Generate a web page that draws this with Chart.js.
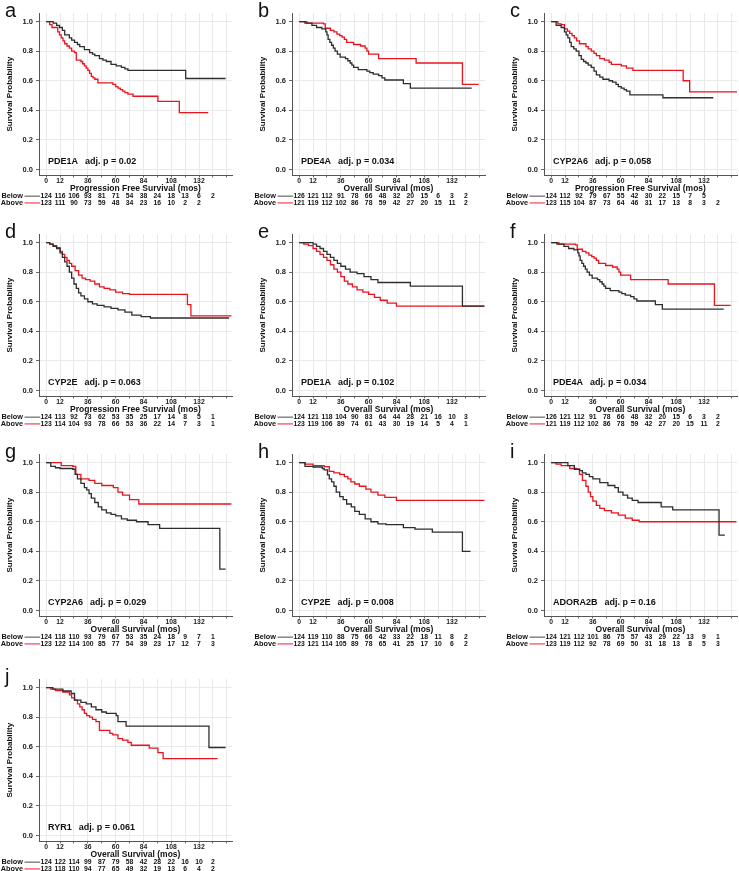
<!DOCTYPE html>
<html>
<head>
<meta charset="utf-8">
<title>Kaplan-Meier curves</title>
<script src="https://cdn.jsdelivr.net/npm/chart.js@4.4.0/dist/chart.umd.min.js"></script>
<style>
  html, body { margin: 0; padding: 0; background: #fff; }
  #figure { position: relative; width: 739px; height: 871px; overflow: hidden; }
  .panel { position: absolute; }
</style>
</head>
<body>
<div id="figure"></div>
<script>
// Axis tick labels and number-at-risk times
const xTickLabels = [0, 12, 36, 60, 84, 108, 132];
const yTickValues = [0, 0.2, 0.4, 0.6, 0.8, 1.0];
const riskMonths = [0, 12, 24, 36, 48, 60, 72, 84, 96, 108, 120, 132, 144];

const pfsTitle = 'Progression Free Survival (mos)';
const osTitle = 'Overall Survival (mos)';

// Survival curves: [month, survival probability]
const aBelow = [[0,1],[2,1],[6,0.99],[9,0.975],[11.5,0.96],[14,0.94],[16,0.91],[20,0.89],[22,0.875],[24.5,0.86],[27,0.845],[29,0.83],[33,0.81],[37.5,0.79],[40,0.78],[42,0.77],[46,0.75],[49,0.74],[52,0.73],[56,0.71],[60.5,0.70],[65,0.69],[68,0.68],[70.6,0.67],[120.5,0.615],[155,0.615]];
const aAbove = [[0,1],[3,0.98],[5,0.96],[10,0.93],[11.5,0.91],[13,0.89],[14.5,0.87],[16,0.85],[18,0.835],[20,0.82],[22,0.80],[24.5,0.79],[26,0.74],[30,0.73],[31.5,0.715],[33,0.70],[34.5,0.685],[36,0.67],[37.5,0.65],[39,0.63],[40.5,0.62],[42,0.61],[44.7,0.585],[57.6,0.575],[60,0.56],[62,0.55],[64,0.54],[66,0.53],[68,0.52],[70.6,0.51],[75,0.495],[96.5,0.46],[115,0.385],[140,0.385]];

const bBelow = [[0,1],[5,0.99],[11,0.975],[15,0.96],[19.6,0.95],[23,0.93],[24,0.91],[25,0.88],[26.5,0.86],[28,0.84],[29.5,0.82],[31,0.80],[33,0.78],[35.4,0.76],[40,0.75],[42,0.735],[44,0.72],[45.5,0.705],[47,0.69],[51,0.675],[58.5,0.665],[61,0.655],[64,0.645],[68.6,0.635],[71.5,0.62],[74,0.605],[90,0.58],[96,0.55],[149,0.55]];
const bAbove = [[0,1],[6.6,0.99],[21,0.985],[22.5,0.955],[27,0.94],[30,0.93],[32.6,0.915],[35,0.905],[37,0.895],[39,0.88],[41,0.86],[47,0.845],[53,0.835],[57,0.82],[58.5,0.80],[60,0.78],[68.6,0.75],[101,0.72],[141,0.575],[155,0.575]];

const cBelow = [[0,1],[4.3,0.975],[8.6,0.96],[11.5,0.93],[13,0.91],[14.4,0.89],[16,0.86],[17.3,0.83],[19.5,0.815],[21.6,0.80],[24,0.77],[26,0.745],[28,0.73],[30,0.72],[32,0.705],[34.6,0.69],[37,0.665],[39,0.64],[42,0.625],[44.7,0.61],[50,0.60],[53,0.59],[56,0.575],[58,0.56],[60.5,0.55],[63,0.54],[65,0.53],[68,0.505],[96.5,0.485],[140,0.485]];
const cAbove = [[0,1],[5.8,0.985],[8.6,0.98],[11.5,0.95],[14,0.935],[16,0.92],[18,0.905],[20,0.89],[22,0.87],[24.5,0.85],[30,0.83],[32,0.815],[34.6,0.80],[37,0.785],[39,0.77],[42,0.75],[46,0.74],[50,0.725],[52,0.71],[60.5,0.70],[65,0.685],[70.6,0.67],[114,0.60],[119.6,0.525],[161,0.525]];

const dBelow = [[0,1],[3,0.99],[6,0.975],[9,0.96],[12,0.93],[14,0.90],[16,0.87],[18,0.84],[20,0.80],[22,0.76],[24,0.72],[26,0.69],[28,0.66],[30,0.64],[33,0.62],[36,0.60],[40,0.585],[44,0.575],[50,0.565],[56,0.555],[62,0.545],[68,0.53],[74,0.51],[82,0.50],[90,0.49],[158,0.49]];
const dAbove = [[0,1],[3,0.99],[6,0.98],[9,0.965],[12,0.94],[14,0.92],[16,0.90],[18,0.88],[20,0.86],[22,0.84],[25,0.81],[28,0.78],[31,0.76],[34,0.75],[38,0.74],[42,0.72],[46,0.70],[50,0.69],[55,0.68],[60,0.665],[66,0.655],[72,0.65],[122,0.58],[125,0.505],[160,0.505]];

const eBelow = [[0,1],[8,1],[12,0.99],[15,0.975],[18,0.96],[21,0.94],[24,0.92],[27,0.90],[30,0.88],[33,0.86],[36,0.84],[40,0.82],[44,0.80],[50,0.79],[56,0.77],[62,0.75],[68,0.73],[96,0.705],[141,0.57],[160,0.57]];
const eAbove = [[0,1],[4,0.99],[8,0.98],[12,0.96],[15,0.94],[18,0.92],[21,0.90],[24,0.88],[27,0.85],[30,0.82],[33,0.80],[36,0.77],[39,0.74],[42,0.72],[46,0.70],[50,0.68],[55,0.665],[60,0.65],[65,0.63],[70,0.61],[76,0.59],[84,0.57],[160,0.57]];

const gBelow = [[0,1],[4,0.975],[8,0.965],[12,0.96],[23,0.955],[25,0.92],[27,0.89],[30,0.86],[33,0.83],[35,0.815],[37,0.79],[39,0.76],[42,0.73],[45,0.70],[48,0.68],[52,0.66],[56,0.65],[60,0.64],[65,0.62],[70,0.61],[78,0.60],[88,0.58],[98,0.555],[150,0.28],[155,0.28]];
const gAbove = [[0,1],[11.5,1],[13,0.98],[23,0.975],[25.6,0.92],[30,0.89],[37,0.88],[42,0.86],[48,0.845],[58,0.83],[62,0.80],[66,0.78],[72,0.75],[80,0.72],[160,0.72]];

const hBelow = [[0,1],[5,0.975],[12,0.97],[20,0.96],[21.6,0.95],[24.5,0.917],[26,0.89],[28,0.87],[30,0.84],[32,0.80],[35,0.77],[38,0.75],[41,0.72],[45,0.70],[48,0.67],[52,0.65],[57,0.62],[62,0.60],[68,0.585],[75,0.58],[90,0.56],[100,0.55],[115,0.53],[141,0.40],[148,0.40]];
const hAbove = [[0,1],[3,1],[5,0.99],[12,0.98],[21.6,0.973],[26,0.94],[30,0.93],[35,0.92],[39,0.905],[42,0.89],[44.7,0.87],[48,0.855],[52,0.84],[57.6,0.82],[62,0.80],[68,0.78],[74,0.765],[84,0.745],[160,0.745]];

const iBelow = [[0,1],[1,1],[14.4,0.98],[20,0.955],[24.5,0.945],[27,0.93],[30,0.92],[33,0.905],[36,0.89],[42,0.865],[49,0.845],[55,0.83],[58,0.80],[62,0.78],[66,0.76],[70,0.745],[75,0.73],[95,0.70],[105,0.68],[145,0.51],[150,0.51]];
const iAbove = [[0,1],[4.3,0.99],[8.6,0.98],[16,0.96],[21.6,0.955],[24.5,0.92],[27,0.88],[30,0.84],[32,0.80],[34,0.77],[36,0.74],[39,0.71],[42,0.69],[46,0.675],[52,0.66],[58,0.645],[64,0.625],[70,0.61],[76,0.60],[160,0.60]];

const jBelow = [[0,1],[5.8,0.99],[14.4,0.977],[21.6,0.96],[24.5,0.915],[30,0.90],[34.6,0.89],[39,0.87],[43,0.85],[48,0.835],[52,0.825],[60.5,0.81],[62,0.77],[69,0.74],[140.6,0.595],[155,0.595]];
const jAbove = [[0,1],[4,0.99],[8,0.98],[14.4,0.97],[20,0.95],[22,0.93],[24.5,0.915],[27,0.89],[29,0.87],[31,0.85],[33,0.825],[35,0.81],[37.5,0.80],[40,0.785],[43,0.77],[46,0.71],[55,0.69],[57.6,0.68],[62,0.655],[66,0.645],[70.6,0.63],[73.5,0.61],[89,0.59],[96.5,0.56],[101,0.52],[148,0.52]];

// Numbers at risk (every 12 months)
const aRiskBelow = [124, 116, 106, 93, 81, 71, 54, 38, 24, 18, 13, 6, 2];
const aRiskAbove = [123, 111, 90, 73, 59, 48, 34, 23, 16, 10, 2, 2];
const bRiskBelow = [126, 121, 112, 91, 78, 66, 48, 32, 20, 15, 6, 3, 2];
const bRiskAbove = [121, 119, 112, 102, 86, 78, 59, 42, 27, 20, 15, 11, 2];
const cRiskBelow = [124, 112, 92, 79, 67, 55, 42, 30, 22, 15, 7, 5];
const cRiskAbove = [123, 115, 104, 87, 73, 64, 46, 31, 17, 13, 8, 3, 2];
const dRiskBelow = [124, 113, 92, 73, 62, 53, 35, 25, 17, 14, 8, 5, 1];
const dRiskAbove = [123, 114, 104, 93, 78, 66, 53, 36, 22, 14, 7, 3, 1];
const eRiskBelow = [124, 121, 118, 104, 90, 83, 64, 44, 28, 21, 16, 10, 3];
const eRiskAbove = [123, 119, 106, 89, 74, 61, 43, 30, 19, 14, 5, 4, 1];
const gRiskBelow = [124, 118, 110, 93, 79, 67, 53, 35, 24, 18, 9, 7, 1];
const gRiskAbove = [123, 122, 114, 100, 85, 77, 54, 39, 23, 17, 12, 7, 3];
const hRiskBelow = [124, 119, 110, 88, 75, 66, 42, 33, 22, 18, 11, 8, 2];
const hRiskAbove = [123, 121, 114, 105, 89, 78, 65, 41, 25, 17, 10, 6, 2];
const iRiskBelow = [124, 121, 112, 101, 86, 75, 57, 43, 29, 22, 13, 9, 1];
const iRiskAbove = [123, 119, 112, 92, 78, 69, 50, 31, 18, 13, 8, 5, 3];
const jRiskBelow = [124, 122, 114, 99, 87, 79, 58, 42, 28, 22, 16, 10, 2];
const jRiskAbove = [123, 118, 110, 94, 77, 65, 49, 32, 19, 13, 6, 4, 2];

const panels = [
    { letter: 'a', gene: 'PDE1A', p: '0.02', title: pfsTitle, below: aBelow, above: aAbove, nBelow: aRiskBelow, nAbove: aRiskAbove },
    { letter: 'b', gene: 'PDE4A', p: '0.034', title: osTitle, below: bBelow, above: bAbove, nBelow: bRiskBelow, nAbove: bRiskAbove },
    { letter: 'c', gene: 'CYP2A6', p: '0.058', title: pfsTitle, below: cBelow, above: cAbove, nBelow: cRiskBelow, nAbove: cRiskAbove },
    { letter: 'd', gene: 'CYP2E', p: '0.063', title: pfsTitle, below: dBelow, above: dAbove, nBelow: dRiskBelow, nAbove: dRiskAbove },
    { letter: 'e', gene: 'PDE1A', p: '0.102', title: osTitle, below: eBelow, above: eAbove, nBelow: eRiskBelow, nAbove: eRiskAbove },
    { letter: 'f', gene: 'PDE4A', p: '0.034', title: osTitle, below: bBelow, above: bAbove, nBelow: bRiskBelow, nAbove: bRiskAbove },
    { letter: 'g', gene: 'CYP2A6', p: '0.029', title: osTitle, below: gBelow, above: gAbove, nBelow: gRiskBelow, nAbove: gRiskAbove },
    { letter: 'h', gene: 'CYP2E', p: '0.008', title: osTitle, below: hBelow, above: hAbove, nBelow: hRiskBelow, nAbove: hRiskAbove },
    { letter: 'i', gene: 'ADORA2B', p: '0.16', title: osTitle, below: iBelow, above: iAbove, nBelow: iRiskBelow, nAbove: iRiskAbove },
    { letter: 'j', gene: 'RYR1', p: '0.061', title: osTitle, below: jBelow, above: jAbove, nBelow: jRiskBelow, nAbove: jRiskAbove }
];

const FONT = '"Liberation Sans", Arial, sans-serif';
const colLeft = [0, 253, 505];
const rowTop = [0, 221, 441, 666];
const PANEL_W = 246;
const PANEL_H = 222;

function toPoints(curve) {
    return curve.map(c => ({ x: c[0], y: c[1] }));
}

// Panel letter, gene label and number-at-risk table
function makePanelText(p) {
    return {
        id: 'panelText',
        afterDraw(chart) {
            const ctx = chart.ctx;
            const area = chart.chartArea;
            const xs = chart.scales.x;
            const ys = chart.scales.y;
            ctx.save();
            ctx.fillStyle = '#111';
            ctx.textAlign = 'left';
            ctx.textBaseline = 'alphabetic';
            ctx.font = '20px ' + FONT;
            ctx.fillText(p.letter, 5, 17);

            ctx.font = 'bold 9px ' + FONT;
            ctx.textBaseline = 'middle';
            const ty = ys.getPixelForValue(0) - 7.5;
            ctx.fillText(p.gene, area.left + 9, ty);
            const gw = ctx.measureText(p.gene).width;
            ctx.fillText('adj. p = ' + p.p, area.left + 9 + gw + 7, ty);

            const rows = [['Below', '#858585', p.nBelow], ['Above', '#f26a78', p.nAbove]];
            rows.forEach((r, k) => {
                const ry = area.bottom + 20.8 + k * 6.7;
                ctx.fillStyle = '#111';
                ctx.font = 'bold 7.3px ' + FONT;
                ctx.textAlign = 'right';
                ctx.fillText(r[0], 23, ry);
                ctx.strokeStyle = r[1];
                ctx.lineWidth = 1.5;
                ctx.beginPath();
                ctx.moveTo(24.5, ry);
                ctx.lineTo(xs.getPixelForValue(0) - 6, ry);
                ctx.stroke();
                ctx.font = 'bold 6.8px ' + FONT;
                ctx.textAlign = 'center';
                r[2].forEach((n, i) => {
                    ctx.fillText(n, xs.getPixelForValue(riskMonths[i]), ry);
                });
            });
            ctx.restore();
        }
    };
}

function drawPanel(p, idx) {
    const holder = document.createElement('div');
    holder.className = 'panel';
    holder.style.left = colLeft[idx % 3] + 'px';
    holder.style.top = rowTop[Math.floor(idx / 3)] + 'px';
    const canvas = document.createElement('canvas');
    canvas.width = PANEL_W;
    canvas.height = PANEL_H;
    holder.appendChild(canvas);
    document.getElementById('figure').appendChild(holder);

    new Chart(canvas, {
        type: 'line',
        data: {
            datasets: [{
                label: 'Below',
                data: toPoints(p.below),
                borderColor: '#2e2e2e',
                borderWidth: 1.3,
                stepped: true,
                pointRadius: 0,
                fill: false
            }, {
                label: 'Above',
                data: toPoints(p.above),
                borderColor: '#e8141e',
                borderWidth: 1.3,
                stepped: true,
                pointRadius: 0,
                fill: false
            }]
        },
        options: {
            responsive: false,
            animation: false,
            layout: { padding: { top: 13, right: 14, bottom: 28, left: 0 } },
            plugins: {
                legend: { display: false },
                tooltip: { enabled: false }
            },
            scales: {
                x: {
                    type: 'linear',
                    min: -6.2,
                    max: 160.5,
                    afterFit: axis => { axis.height = 18.6; },
                    ticks: {
                        stepSize: 12,
                        includeBounds: false,
                        autoSkip: false,
                        maxRotation: 0,
                        padding: 0,
                        color: '#222',
                        font: { family: FONT, size: 6.8, weight: 'bold' },
                        callback: v => xTickLabels.includes(v) ? String(v) : ''
                    },
                    grid: { color: '#e9e9e9', tickColor: '#666', tickLength: 2 },
                    border: { color: '#555', width: 1 },
                    title: {
                        display: true,
                        text: p.title,
                        color: '#111',
                        padding: 0,
                        font: { family: FONT, size: 8.5, weight: 'bold' }
                    }
                },
                y: {
                    min: -0.04,
                    max: 1.058,
                    afterFit: axis => { axis.width = 39; },
                    ticks: {
                        stepSize: 0.2,
                        includeBounds: false,
                        padding: 3,
                        color: '#222',
                        font: { family: FONT, size: 7.5, weight: 'bold' },
                        callback: v => yTickValues.some(t => Math.abs(t - v) < 1e-6) ? v.toFixed(1) : ''
                    },
                    grid: { color: '#e9e9e9', tickColor: '#666', tickLength: 3 },
                    border: { color: '#555', width: 1 },
                    title: {
                        display: true,
                        text: 'Survival Probability',
                        color: '#111',
                        padding: { top: 5, bottom: 0 },
                        font: { family: FONT, size: 8, weight: 'bold' }
                    }
                }
            }
        },
        plugins: [makePanelText(p)]
    });
}

panels.forEach((p, i) => drawPanel(p, i));
</script>
</body>
</html>
